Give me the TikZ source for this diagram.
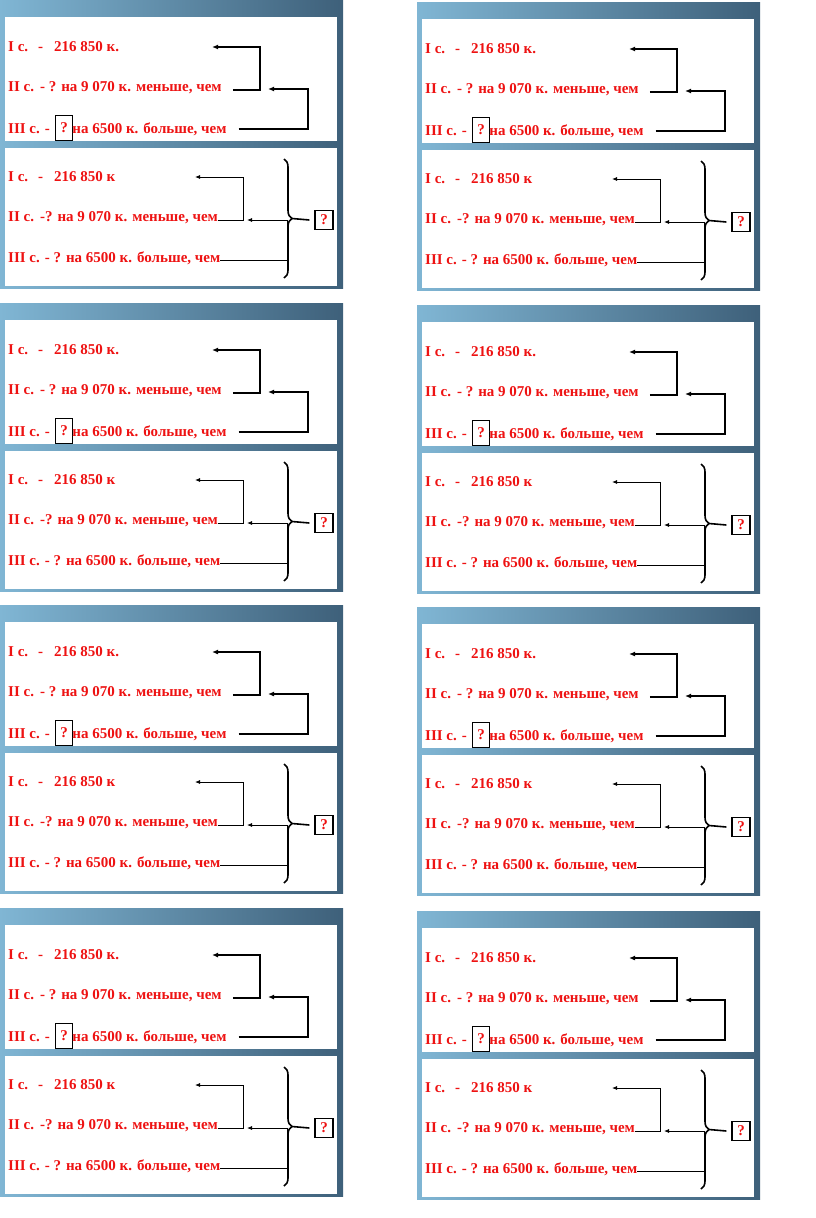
\documentclass[tikz,border=0pt]{standalone}
\usepackage{fontspec}
\setmainfont{Liberation Serif}
\usetikzlibrary{positioning,decorations.pathreplacing,arrows.meta}

\definecolor{cardlight}{RGB}{128,182,212}
\definecolor{cardmid}{RGB}{88,136,165}
\definecolor{carddark}{RGB}{62,96,122}
\definecolor{txtred}{RGB}{238,18,18}

\tikzset{
  rowtext/.style={anchor=west, inner sep=0pt, text=txtred,
    font=\fontsize{15}{17}\selectfont\bfseries},
  qbox/.style={draw=black, line width=1.1pt, inner sep=0pt, text=txtred,
    font=\fontsize{15}{17}\selectfont\bfseries},
  thickarrow/.style={line width=1.7pt, -{Latex[length=6pt,width=5pt]}},
  thinarrow/.style={line width=0.8pt, -{Latex[length=5pt,width=4pt]}},
}

\begin{document}
\begin{tikzpicture}[x=1pt,y=-1pt]
  \useasboundingbox (0,0) rectangle (816,1218);

  \foreach \cx/\cy [count=\n] in {0/0, 417/2, 0/303, 417/305, 0/605, 417/607, 0/908, 417/911}{
  \begin{scope}[shift={(\cx,\cy)}]
  %% card
  \shade[left color=cardlight, middle color=cardmid, right color=carddark] (0,0) rectangle (343,288);
  \fill[white] (5,17) rectangle (337,141);
  \fill[white] (5,148) rectangle (337,286);

  %% upper panel
  \node[rowtext] (ua\n) at (8,47) {I с.\hspace{10pt}-\hspace{11pt}216 850 к.};
  \node[rowtext] (ub\n) at (8,88) {II с.\hspace{6pt}- ? на 9 070 к. меньше, чем};
  \node[rowtext] (uc\n) at (8,129) {III с. -};
  \node[qbox, minimum width=17pt, minimum height=25pt, right=5pt of uc\n, yshift=1pt] (uq\n) {?};
  \node[rowtext, right=-1pt of uq\n, yshift=-1pt] (ud\n) {на 6500 к. больше, чем};
  \coordinate (uatip\n) at (212,47);
  \coordinate (ubtip\n) at (268,89);
  \draw[thickarrow] ([xshift=11pt,yshift=-2pt]ub\n.east) -| ([xshift=48pt]uatip\n) -- (uatip\n);
  \draw[thickarrow] ([xshift=12pt]ud\n.east) -| ([xshift=40pt]ubtip\n) -- (ubtip\n);

  %% lower panel
  \node[rowtext] (la\n) at (8,177) {I с.\hspace{10pt}-\hspace{11pt}216 850 к};
  \node[rowtext] (lb\n) at (8,218) {II с.\hspace{6pt}-? на 9 070 к. меньше, чем};
  \node[rowtext] (lc\n) at (8,258) {III с. - ? на 6500 к. больше, чем};
  \coordinate (latip\n) at (195,177);
  \coordinate (lbtip\n) at (247,220);
  \draw[thinarrow] ([yshift=-2pt]lb\n.east) -| ([xshift=48pt]latip\n) -- (latip\n);
  \draw[thinarrow] ([yshift=-2pt]lc\n.east) -| ([xshift=40pt]lbtip\n) -- (lbtip\n);

  %% brace and total
  \node[qbox, line width=1.3pt, minimum width=18pt, minimum height=19pt] (lq\n) at (324,220) {?};
  \draw[decorate, decoration={brace, amplitude=8pt}, line width=1.6pt]
    (284,159) -- (284,278) coordinate[midway, xshift=10pt] (bt\n);
  \draw[line width=1.6pt] ([xshift=-2pt]bt\n) -- ([xshift=-5pt]lq\n.west);
  \end{scope}
  }
\end{tikzpicture}
\end{document}
